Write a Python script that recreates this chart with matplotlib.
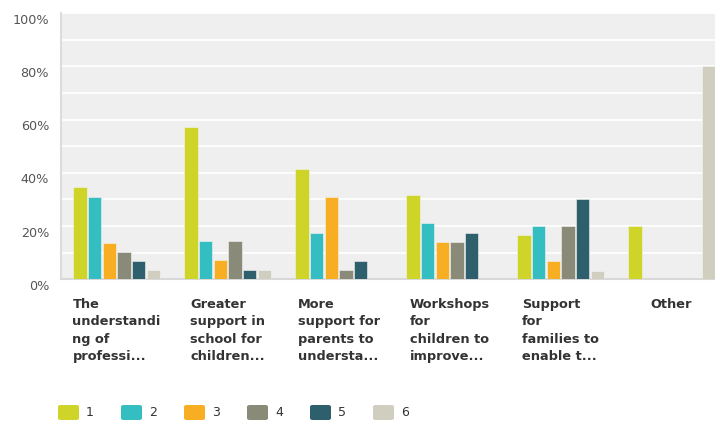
import matplotlib.pyplot as plt
import matplotlib.transforms as mtransforms
from matplotlib.patches import FancyBboxPatch
import numpy as np

# Survey answers: share of respondents per rank (1-6) for each option
categories = [
    "The\nunderstandi\nng of\nprofessi...",
    "Greater\nsupport in\nschool for\nchildren...",
    "More\nsupport for\nparents to\nundersta...",
    "Workshops\nfor\nchildren to\nimprove...",
    "Support\nfor\nfamilies to\nenable t...",
    "Other",
]
rank_labels = ["1", "2", "3", "4", "5", "6"]
rank1 = [34.5, 57.1, 41.4, 31.6, 16.7, 20.0]
rank2 = [31.0, 14.3, 17.2, 21.1, 20.0, 0.0]
rank3 = [13.8, 7.1, 31.0, 14.0, 6.7, 0.0]
rank4 = [10.3, 14.3, 3.4, 14.0, 20.0, 0.0]
rank5 = [6.9, 3.6, 6.9, 17.5, 30.0, 0.0]
rank6 = [3.4, 3.6, 0.0, 0.0, 3.3, 80.0]
series = [rank1, rank2, rank3, rank4, rank5, rank6]
colors = ["#cfd428", "#34bec1", "#f7ae22", "#8a8a78", "#2e5f6c", "#d0cebe"]

W, H = 715, 421
fig = plt.figure(figsize=(W / 100, H / 100), dpi=100)
ax = fig.add_axes([61 / W, (H - 279.3) / H, (W - 61) / W, 266.3 / H])
ax.set_facecolor("#efefef")

step = 14.67 / 111
bar_w = 13.3 / 111
x = np.arange(len(categories))
for k, (vals, col) in enumerate(zip(series, colors)):
    ax.bar(x + k * step, vals, width=bar_w, align="edge", color=col,
           edgecolor="#f4f4f4", linewidth=0.4, zorder=3)

ax.set_xlim(-(73.3 - 61) / 111, (W - 73.3) / 111)
ax.set_ylim(0, 100)
ax.set_yticks(np.arange(0, 101, 20))
ax.set_yticklabels([f"{v}%" for v in range(0, 101, 20)])
ax.set_yticks(np.arange(10, 100, 20), minor=True)
ax.grid(axis="y", which="both", color="white", linewidth=1.2, zorder=1)
ax.tick_params(axis="y", which="both", length=0, pad=8.6, labelsize=9.2,
               labelcolor="#555555")
for lab in ax.get_yticklabels():
    lab.set_transform(lab.get_transform() + mtransforms.ScaledTranslation(0, -5.5 / 100, fig.dpi_scale_trans))
ax.set_xticks([])
for side in ["top", "right"]:
    ax.spines[side].set_visible(False)
ax.spines["left"].set_color("#dcdcdc")
ax.spines["left"].set_linewidth(1.5)
ax.spines["bottom"].set_color("#d8d8d8")
ax.spines["bottom"].set_linewidth(1.5)

# category labels under each group, left-aligned block centred on the group
trans = mtransforms.blended_transform_factory(ax.transData, fig.transFigure)
group_mid = (5 * step + bar_w) / 2
for i, name in enumerate(categories):
    ax.text(i + group_mid, 1 - 298 / H, name, transform=trans, ha="center",
            va="top", multialignment="left", fontsize=9.3, fontweight="bold",
            color="#333333", linespacing=1.43, clip_on=False)

# legend
for k, (lab, col) in enumerate(zip(rank_labels, colors)):
    x0 = 58 + 63 * k
    box = FancyBboxPatch((x0 / W, 1 - 420 / H), 21 / W, 15 / H,
                         boxstyle="round,pad=0,rounding_size=0.004",
                         transform=fig.transFigure, facecolor=col,
                         edgecolor="none")
    fig.patches.append(box)
    fig.text((x0 + 28) / W, 1 - 412.5 / H, lab, ha="left", va="center",
             fontsize=9, color="#333333")

fig.savefig("out.png", dpi=100)
